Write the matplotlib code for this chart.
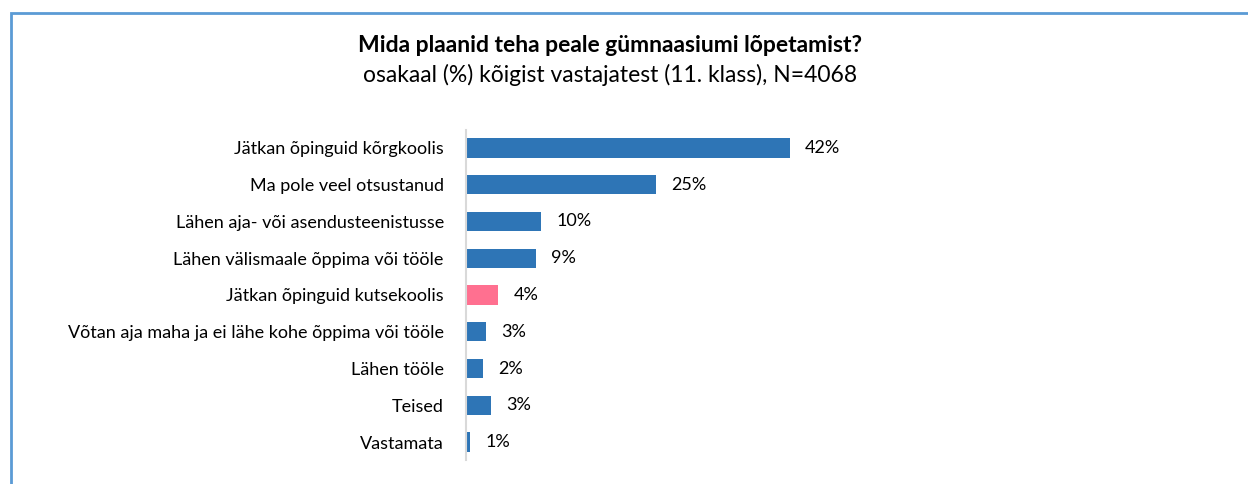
import matplotlib.pyplot as plt
from matplotlib.patches import Rectangle

plt.rcParams['font.family'] = ['Lato', 'DejaVu Sans']

# Data
categories = [
    "Jätkan õpinguid kõrgkoolis",
    "Ma pole veel otsustanud",
    "Lähen aja- või asendusteenistusse",
    "Lähen välismaale õppima või tööle",
    "Jätkan õpinguid kutsekoolis",
    "Võtan aja maha ja ei lähe kohe õppima või tööle",
    "Lähen tööle",
    "Teised",
    "Vastamata",
]
values = [42.0, 24.6, 9.7, 9.1, 4.2, 2.6, 2.2, 3.2, 0.5]
value_labels = ["42%", "25%", "10%", "9%", "4%", "3%", "2%", "3%", "1%"]
highlight = "Jätkan õpinguid kutsekoolis"

blue = "#2E75B6"
pink = "#FF7090"
colors = [pink if c == highlight else blue for c in categories]

W, H = 1248, 484
fig = plt.figure(figsize=(W / 100, H / 100), dpi=100)

# outer frame (right/bottom edges run off the picture)
fig.patches.append(Rectangle((11 / W, -0.1), 1.2, 1.1 - 13 / H,
                             transform=fig.transFigure, fill=False,
                             edgecolor="#5B9BD5", linewidth=2))

fig.text(610 / W, 1 - 45 / H, "Mida plaanid teha peale gümnaasiumi lõpetamist?",
         ha="center", va="center", fontsize=16.5, fontweight="bold")
fig.text(610 / W, 1 - 75 / H, "osakaal (%) kõigist vastajatest (11. klass), N=4068",
         ha="center", va="center", fontsize=16.5)

left, right = 466, 1100
top, bottom = 129.6, 460.4
ax = fig.add_axes([left / W, 1 - bottom / H, (right - left) / W, (bottom - top) / H])

y = list(range(len(categories)))
ax.barh(y, values, height=0.52, color=colors)
ax.set_xlim(0, (right - left) / 7.71)
ax.set_ylim(len(categories) - 0.5, -0.5)
ax.set_yticks(y)
ax.set_yticklabels(categories, fontsize=13)
ax.tick_params(axis="y", length=0, pad=16)
ax.set_xticks([])

for s in ["top", "right", "bottom"]:
    ax.spines[s].set_visible(False)
ax.spines["left"].set_color("#D9D9D9")
ax.spines["left"].set_linewidth(1.5)

for yi, v, lab in zip(y, values, value_labels):
    ax.annotate(lab, (v, yi), xytext=(11, 0), textcoords="offset points",
                va="center", ha="left", fontsize=13)

fig.savefig("out.png", dpi=100)
